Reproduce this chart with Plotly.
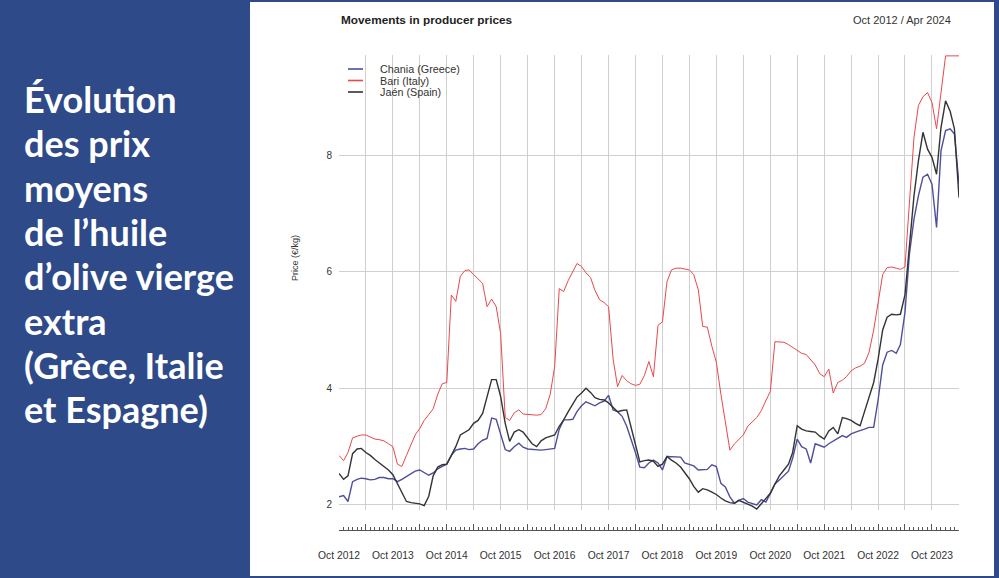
import pandas as pd
import plotly.graph_objects as go

# ---------------- data (monthly, Oct 2012 -> Apr 2024) ----------------
start_month = "2012-10-01"
n_months = 139

bari_italy = [
    2.85, 2.76, 2.90, 3.15, 3.18, 3.20, 3.20, 3.17, 3.13, 3.12, 3.10, 3.05,
    3.00, 2.70, 2.66, 2.85, 3.05, 3.20, 3.31, 3.45, 3.55, 3.65, 3.90, 4.08,
    4.10, 5.60, 5.49, 5.92, 6.02, 6.03, 5.95, 5.88, 5.80, 5.40, 5.53, 5.40,
    4.94, 3.50, 3.45, 3.58, 3.63, 3.56, 3.55, 3.55, 3.54, 3.55, 3.65, 3.90,
    4.37, 5.71, 5.66, 5.85, 6.00, 6.14, 6.09, 5.98, 5.90, 5.68, 5.52, 5.47,
    5.40, 4.50, 4.03, 4.22, 4.13, 4.08, 4.05, 4.07, 4.22, 4.46, 4.20, 5.08,
    5.14, 5.83, 6.03, 6.06, 6.06, 6.05, 6.03, 5.95, 5.69, 5.06, 5.05, 4.72,
    4.45, 3.90, 3.40, 2.94, 3.05, 3.12, 3.20, 3.35, 3.42, 3.50, 3.62, 3.78,
    3.95, 4.80, 4.80, 4.79, 4.75, 4.70, 4.66, 4.60, 4.58, 4.50, 4.40, 4.25,
    4.20, 4.33, 3.92, 4.10, 4.14, 4.20, 4.30, 4.35, 4.38, 4.43, 4.62, 5.00,
    5.50, 5.95, 6.07, 6.08, 6.06, 6.04, 6.08, 7.20, 8.30, 8.85, 9.00, 9.07,
    8.90, 8.45, 9.10, 9.70, 9.70, 9.70, 9.70,
]

jaen_spain = [
    2.54, 2.44, 2.50, 2.88, 2.96, 2.97, 2.90, 2.85, 2.78, 2.72, 2.66, 2.60,
    2.52, 2.36, 2.22, 2.06, 2.04, 2.03, 2.02, 1.99, 2.15, 2.50, 2.65, 2.69,
    2.70, 2.85, 3.00, 3.20, 3.25, 3.29, 3.40, 3.45, 3.57, 3.85, 4.15, 4.15,
    3.86, 3.40, 3.09, 3.25, 3.29, 3.25, 3.15, 3.05, 3.00, 3.10, 3.15, 3.18,
    3.20, 3.35, 3.46, 3.60, 3.74, 3.85, 3.92, 4.00, 3.93, 3.84, 3.81, 3.80,
    3.75, 3.68, 3.60, 3.62, 3.63, 3.35, 3.06, 2.74, 2.76, 2.77, 2.75, 2.66,
    2.70, 2.83, 2.77, 2.72, 2.65, 2.55, 2.45, 2.32, 2.22, 2.28, 2.26, 2.22,
    2.18, 2.12, 2.07, 2.04, 2.03, 2.08, 2.05, 2.02, 1.98, 1.93, 2.02, 2.10,
    2.20, 2.36, 2.50, 2.60, 2.70, 2.90, 3.36, 3.30, 3.27, 3.26, 3.25, 3.18,
    3.13, 3.27, 3.33, 3.22, 3.50, 3.48, 3.45, 3.40, 3.36, 3.60, 3.85, 4.10,
    4.50, 5.00, 5.22, 5.27, 5.26, 5.27, 5.60, 6.50, 7.30, 7.90, 8.39, 8.10,
    7.96, 7.67, 8.47, 8.93, 8.75, 8.45, 7.27,
]

chania_greece = [
    2.14, 2.16, 2.06, 2.40, 2.44, 2.46, 2.45, 2.43, 2.44, 2.47, 2.47, 2.45,
    2.45, 2.40, 2.44, 2.49, 2.53, 2.58, 2.60, 2.55, 2.51, 2.55, 2.62, 2.66,
    2.70, 2.85, 2.94, 2.96, 2.97, 2.95, 2.96, 3.05, 3.11, 3.14, 3.49, 3.47,
    3.23, 2.95, 2.92, 3.00, 3.06, 2.99, 2.96, 2.95, 2.94, 2.94, 2.95, 2.96,
    2.97, 3.30, 3.46, 3.46, 3.47, 3.60, 3.70, 3.77, 3.73, 3.70, 3.75, 3.78,
    3.88, 3.63, 3.60, 3.52, 3.35, 3.15, 2.90, 2.65, 2.64, 2.72, 2.77, 2.72,
    2.60, 2.83, 2.83, 2.83, 2.82, 2.72, 2.69, 2.67, 2.60, 2.60, 2.61, 2.69,
    2.66, 2.37, 2.31, 2.14, 2.03, 2.08, 2.11, 2.05, 2.03, 2.00, 2.09, 2.05,
    2.20, 2.36, 2.43, 2.50, 2.58, 2.80, 3.13, 3.00, 2.96, 2.72, 3.05, 3.02,
    2.99, 3.05, 3.10, 3.15, 3.19, 3.16, 3.22, 3.25, 3.27, 3.30, 3.33, 3.33,
    3.80, 4.40, 4.62, 4.65, 4.60, 4.75, 5.30, 6.30, 6.90, 7.30, 7.62, 7.67,
    7.50, 6.76, 8.07, 8.42, 8.45, 8.36, 7.50,
]

series_names = ["Chania (Greece)", "Bari (Italy)", "Jaén (Spain)"]
y_ticks = [2, 4, 6, 8]

side_title_lines = [
    "Évolution", "des prix", "moyens", "de l’huile",
    "d’olive vierge", "extra", "(Grèce, Italie", "et Espagne)",
]

months = pd.date_range(start_month, periods=n_months, freq="MS")
grid_months = pd.date_range(start_month, months[-1], freq="6MS")
grid_text = [d.strftime("%b %Y") if d.month == 10 else "" for d in grid_months]

# ---------------- layout geometry (pixels) ----------------
W, H = 999, 578
PL, PR = 339, 959          # plot left / right
PT, PB = 55, 530           # paper top / bottom (x axis line at PB)
PLOT_BOTTOM = 510

def px(x):
    return (x - PL) / (PR - PL)

def py(y):
    return (PB - y) / (PB - PT)

BLUE_BG = "#2E4A88"
TXT = "#333333"
GRID = "#CFCFCF"
FONT = "Liberation Sans, Arial, sans-serif"

fig = go.Figure()
styles = [
    dict(color="#4E4E9E", width=1.4),
    dict(color="#E9484C", width=1.0),
    dict(color="#333333", width=1.4),
]
for name, vals, st in zip(series_names, [chania_greece, bari_italy, jaen_spain], styles):
    fig.add_trace(go.Scatter(x=months, y=vals, mode="lines", name=name,
                             line=st, hoverinfo="x+y+name", showlegend=False))

y_range = [1.914, 9.715]
y_dom0 = (PB - PLOT_BOTTOM) / (PB - PT)

fig.update_layout(
    width=W, height=H,
    margin=dict(l=PL, r=W - PR, t=PT, b=H - PB, pad=0),
    paper_bgcolor=BLUE_BG,
    plot_bgcolor="white",
    font=dict(family=FONT, size=10, color=TXT),
    showlegend=False,
    xaxis=dict(
        anchor="free", position=0,
        range=[months[0], months[-1]],
        tickmode="array", tickvals=grid_months, ticktext=grid_text,
        ticks="inside", ticklen=6, tickcolor="#555", tickwidth=1,
        showline=True, linecolor="#555", linewidth=1,
        showgrid=True, gridcolor=GRID, gridwidth=1.3,
        zeroline=False,
        minor=dict(dtick="M1", tick0=start_month, ticks="inside", ticklen=3,
                   tickcolor="#555", showgrid=False),
        ticklabelstandoff=16,
        tickfont=dict(size=10.3, color=TXT),
    ),
    yaxis=dict(
        domain=[y_dom0, 1], range=y_range,
        tickmode="array", tickvals=y_ticks,
        showgrid=True, gridcolor=GRID, gridwidth=1.3,
        zeroline=False, showline=False, ticks="",
        ticklabelstandoff=6,
        tickfont=dict(size=10, color=TXT),
    ),
    yaxis2=dict(
        overlaying="y", side="right", anchor="x", range=y_range,
        tickmode="array", tickvals=y_ticks,
        showgrid=False, zeroline=False, showline=False, ticks="",
        ticklabelstandoff=6,
        tickfont=dict(size=10, color=TXT),
    ),
)

# white chart panel
fig.add_shape(type="rect", xref="paper", yref="paper",
              x0=px(250), x1=px(994), y0=py(576), y1=py(2),
              fillcolor="white", line=dict(width=0), layer="below")

# compact legend (keys drawn as short strokes + labels)
for i, (name, st) in enumerate(zip(series_names, styles)):
    yy = py(69 + 11.5 * i)
    fig.add_shape(type="line", xref="paper", yref="paper",
                  x0=px(348), x1=px(363), y0=yy, y1=yy,
                  line=dict(color=st["color"], width=1.6))
    fig.add_annotation(xref="paper", yref="paper", x=px(378), y=yy,
                       xanchor="left", yanchor="middle", showarrow=False,
                       text=name, font=dict(size=10.8, color=TXT))

# titles
fig.add_annotation(xref="paper", yref="paper", x=px(339), y=py(20),
                   xanchor="left", yanchor="middle", showarrow=False,
                   text="<b>Movements in producer prices</b>",
                   font=dict(size=11.8, color="#222"))
fig.add_annotation(xref="paper", yref="paper", x=px(953), y=py(20),
                   xanchor="right", yanchor="middle", showarrow=False,
                   text="Oct 2012 / Apr 2024", font=dict(size=11, color=TXT))
fig.add_annotation(xref="paper", yref="paper", x=px(295), y=py(258),
                   xanchor="center", yanchor="middle", showarrow=False,
                   textangle=-90, text="Price (€/kg)",
                   font=dict(size=9, color=TXT))

# left-side heading
for i, line in enumerate(side_title_lines):
    fig.add_annotation(xref="paper", yref="paper", x=px(22), y=py(99 + 44.3 * i),
                       xanchor="left", yanchor="middle", showarrow=False,
                       text="<b>" + line + "</b>",
                       font=dict(family="Lato, Open Sans, sans-serif", size=36,
                                 color="white"))

fig.write_html("out.html",
               config={"displayModeBar": False},
               post_script="document.body.style.margin='0';"
                           "document.body.style.overflow='hidden';")
